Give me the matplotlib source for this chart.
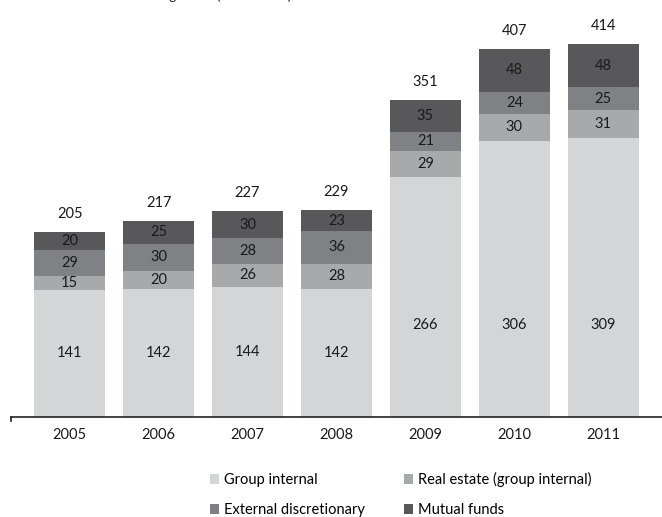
import matplotlib
matplotlib.use("Agg")
import matplotlib.pyplot as plt
from matplotlib.patches import Patch

plt.rcParams["font.family"] = ["Lato", "DejaVu Sans"]

years = ["2005", "2006", "2007", "2008", "2009", "2010", "2011"]
group_internal = [141, 142, 144, 142, 266, 306, 309]
real_estate = [15, 20, 26, 28, 29, 30, 31]
external_discretionary = [29, 30, 28, 36, 21, 24, 25]
mutual_funds = [20, 25, 30, 23, 35, 48, 48]
totals = [205, 217, 227, 229, 351, 407, 414]

series = [
    ("Group internal", group_internal, "#d4d5d7"),
    ("Real estate (group internal)", real_estate, "#a8a9ab"),
    ("External discretionary", external_discretionary, "#808184"),
    ("Mutual funds", mutual_funds, "#58585a"),
]

TEXT = "#1a1a1a"
FS = 10.5

fig = plt.figure(figsize=(6.62, 5.17), dpi=100)
ax = fig.add_axes([0.0166, 0.1934, 0.9834, 0.772])

x = range(len(years))
bottom = [0] * len(years)
for k, (name, vals, color) in enumerate(series):
    bars = ax.bar(x, vals, width=0.795, bottom=bottom, color=color, label=name)
    for rect, v in zip(bars, vals):
        h = rect.get_height() / 2
        if k == 0:
            h = min(h, 102)  # keep the base labels at a common height on tall bars
        ax.text(rect.get_x() + rect.get_width() / 2, rect.get_y() + h,
                f"{v}", ha="center", va="center", fontsize=FS, color=TEXT)
    bottom = [b + v for b, v in zip(bottom, vals)]

# totals above each stack
for i, (top, tot) in enumerate(zip(bottom, totals)):
    ax.annotate(f"{tot}", (i, top), xytext=(0, 13), textcoords="offset points",
                ha="center", va="center", fontsize=FS, color=TEXT)

ax.set_xlim(-0.66, len(years) - 0.34)
ax.set_ylim(0, 442)
for s in ("top", "right", "left"):
    ax.spines[s].set_visible(False)
ax.spines["bottom"].set_color("#222222")
ax.spines["bottom"].set_linewidth(1.2)
ax.set_yticks([])
ax.set_xticks(list(x))
ax.set_xticklabels(years, fontsize=FS, color=TEXT)
ax.tick_params(axis="x", length=0, pad=8)
# small end tick at the left of the baseline
ax.plot([-0.66, -0.66], [0, -4.5], color="#222222", lw=1.2, clip_on=False)

# legend filled row by row
handles = [Patch(facecolor=c, label=n) for n, _, c in series]
handles = [handles[0], handles[2], handles[1], handles[3]]
fig.legend(handles=handles, ncol=2, loc="lower left", bbox_to_anchor=(0.297, -0.025),
           frameon=False, fontsize=FS, handlelength=0.65, handleheight=0.65,
           handletextpad=0.3, columnspacing=2.7, labelspacing=1.1)

# heading sits above the top edge
fig.text(0.44, 1.0, "Assets under management (EUR million)", ha="right", va="baseline",
         fontsize=9.5, color=TEXT)

fig.savefig("out.png", dpi=100, facecolor="white")
